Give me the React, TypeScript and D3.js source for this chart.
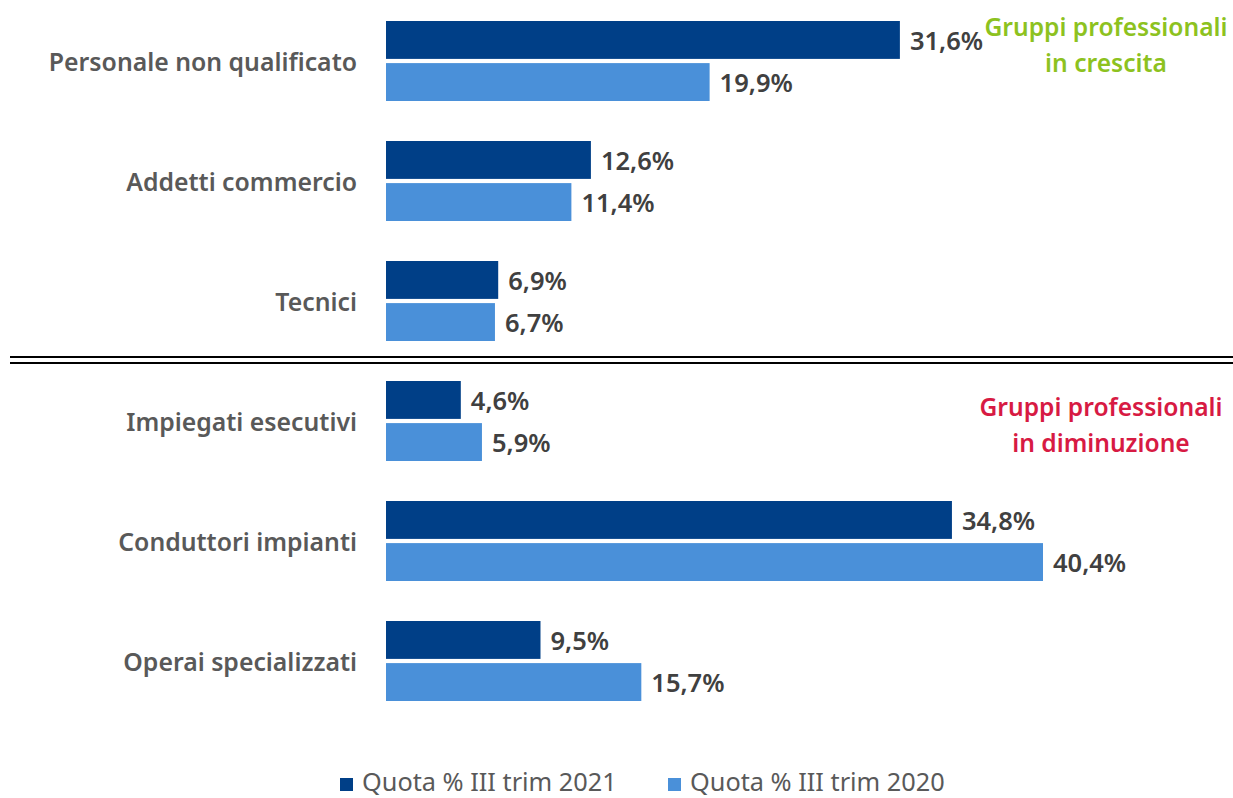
import React from "react";
import * as d3 from "d3";

const categories = [
  "Personale non qualificato",
  "Addetti commercio",
  "Tecnici",
  "Impiegati esecutivi",
  "Conduttori impianti",
  "Operai specializzati",
];
const series = ["Quota % III trim 2021", "Quota % III trim 2020"];
const values2021 = [31.6, 12.6, 6.9, 4.6, 34.8, 9.5];
const values2020 = [19.9, 11.4, 6.7, 5.9, 40.4, 15.7];
const colors = ["#003f87", "#4a90d9"];

const W = 1233;
const H = 798;
const FONT = "'Source Sans Pro', 'Noto Sans', sans-serif";

export default function App() {
  const x = d3.scaleLinear().domain([0, 40.4]).range([386, 1043]);
  const y = d3.scaleBand<string>().domain(categories).range([1, 721]).paddingInner(1 / 3).paddingOuter(1 / 6);
  const inner = d3.scaleBand<string>().domain(series).range([0, y.bandwidth()]).paddingInner(0.1);
  const fmt = (v: number) => d3.format(".1f")(v).replace(".", ",") + "%";
  const data = [values2021, values2020];

  return (
    <svg width={W} height={H} style={{ position: "absolute", left: 0, top: 0, background: "#fff" }} fontFamily={FONT}>
      {categories.map((c, i) => (
        <g key={c}>
          <text x={357} y={(y(c) as number) + y.bandwidth() / 2} textAnchor="end" dominantBaseline="central"
            fontSize={24.8} fontWeight={600} fill="#595959">{c}</text>
          {series.map((s, j) => {
            const v = data[j][i];
            const by = (y(c) as number) + (inner(s) as number);
            return (
              <g key={s}>
                <rect x={x(0)} y={by} width={x(v) - x(0)} height={inner.bandwidth()} fill={colors[j]} />
                <text x={x(v) + 10} y={by + inner.bandwidth() / 2} dominantBaseline="central"
                  fontSize={25.5} fontWeight={600} fill="#404040">{fmt(v)}</text>
              </g>
            );
          })}
        </g>
      ))}
      <line x1={10} x2={W} y1={357} y2={357} stroke="#000" strokeWidth={2} />
      <line x1={10} x2={W} y1={363} y2={363} stroke="#000" strokeWidth={2} />
      <g fontSize={24.6} fontWeight={600} textAnchor="middle">
        <text x={1106} y={36} fill="#8dc21f">Gruppi professionali</text>
        <text x={1106} y={72} fill="#8dc21f">in crescita</text>
        <text x={1101} y={416} fill="#d71a43">Gruppi professionali</text>
        <text x={1101} y={452} fill="#d71a43">in diminuzione</text>
      </g>
      {series.map((s, j) => {
        const lx = j === 0 ? 340 : 668;
        return (
          <g key={s}>
            <rect x={lx} y={778} width={13} height={13} fill={colors[j]} />
            <text x={lx + 22} y={791} fontSize={25.3} fill="#595959">{s}</text>
          </g>
        );
      })}
    </svg>
  );
}
